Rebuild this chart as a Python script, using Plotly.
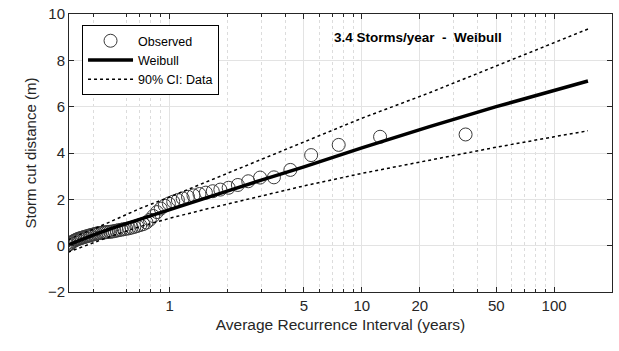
import plotly.graph_objects as go

# Observed (Gringorten plotting positions)
obs_ari = [34.64, 12.44, 7.58, 5.45, 4.25, 3.49, 2.957, 2.566, 2.266, 2.029,
           1.837, 1.678, 1.545, 1.431, 1.332, 1.247, 1.171, 1.105, 1.045, 0.992,
           0.944, 0.900, 0.860, 0.823, 0.790, 0.759, 0.730, 0.704, 0.679, 0.656,
           0.635, 0.615, 0.596, 0.578, 0.562, 0.546, 0.531, 0.517, 0.503, 0.491,
           0.478, 0.467, 0.456, 0.445, 0.435, 0.426, 0.417, 0.408, 0.400, 0.391,
           0.384, 0.376, 0.369, 0.362, 0.356, 0.349, 0.343, 0.337, 0.332, 0.326,
           0.321, 0.316, 0.310, 0.305, 0.301, 0.296]
obs_cut = [4.80, 4.70, 4.35, 3.91, 3.27, 2.95, 2.94, 2.78, 2.62, 2.50,
           2.42, 2.35, 2.29, 2.23, 2.17, 2.11, 2.04, 1.97, 1.90, 1.82,
           1.73, 1.60, 1.45, 1.28, 1.12, 1.00, 0.93, 0.89, 0.85, 0.81,
           0.78, 0.75, 0.73, 0.71, 0.69, 0.67, 0.65, 0.63, 0.61, 0.60,
           0.59, 0.58, 0.57, 0.56, 0.55, 0.54, 0.52, 0.50, 0.48, 0.46,
           0.44, 0.42, 0.40, 0.38, 0.36, 0.34, 0.32, 0.30, 0.28, 0.25,
           0.22, 0.19, 0.15, 0.10, 0.06, 0.02]

# Weibull fit line and 90% CI
fit_ari = [0.297, 0.32, 0.35, 0.4, 0.5, 0.7, 1.0, 1.5, 2.07, 3.0, 5.0, 10, 22.5, 50, 100, 150]
fit_cut = [0.03, 0.14, 0.27, 0.45, 0.75, 1.15, 1.56, 2.03, 2.40, 2.83, 3.40, 4.22, 5.14, 6.0, 6.68, 7.11]
ci_up = [0.25, 0.38, 0.52, 0.70, 1.05, 1.60, 2.10, 2.70, 3.20, 3.75, 4.50, 5.50, 6.60, 7.75, 8.75, 9.35]
ci_lo = [-0.28, -0.18, -0.06, 0.12, 0.42, 0.82, 1.18, 1.55, 1.83, 2.12, 2.58, 3.12, 3.70, 4.25, 4.70, 4.96]

x_ticks = [1, 5, 10, 20, 50, 100]
x_minor = [0.3, 0.4, 0.6, 0.7, 0.8, 0.9, 2, 3, 4, 6, 7, 8, 9, 30, 40, 60, 70, 80, 90, 200]
y_ticks = [-2, 0, 2, 4, 6, 8, 10]

FONT = "Liberation Sans, Arial, sans-serif"
fig = go.Figure()
fig.add_trace(go.Scatter(x=obs_ari, y=obs_cut, mode="markers", name="Observed",
                         marker=dict(symbol="circle-open", size=13, color="#3a3a3a",
                                     line=dict(width=1, color="#3a3a3a"))))
fig.add_trace(go.Scatter(x=fit_ari, y=fit_cut, mode="lines", name="Weibull",
                         line=dict(color="black", width=3.5)))
fig.add_trace(go.Scatter(x=fit_ari, y=ci_up, mode="lines", name="90% CI: Data",
                         line=dict(color="black", width=1.5, dash="dot")))
fig.add_trace(go.Scatter(x=fit_ari, y=ci_lo, mode="lines", name="90% CI: Data",
                         showlegend=False,
                         line=dict(color="black", width=1.5, dash="dot")))

fig.add_annotation(text="3.4 Storms/year\u00a0\u00a0-\u00a0\u00a0Weibull", xref="paper", yref="paper",
                   x=0.643, y=0.915, xanchor="center", yanchor="middle", showarrow=False,
                   font=dict(size=13.5, color="black", family=FONT, weight="bold"))

axis_common = dict(showline=True, linecolor="#262626", linewidth=1, mirror="ticks",
                   ticks="inside", tickcolor="#262626", ticklen=5, automargin=False,
                   tickfont=dict(size=15, color="#262626", family=FONT),
                   gridcolor="#e3e3e3", gridwidth=1, zeroline=False)

fig.update_xaxes(type="log", range=[-0.5229, 2.301], tickmode="array", tickvals=x_ticks,
                 ticktext=[str(v) for v in x_ticks],
                 title=dict(text="Average Recurrence Interval (years)", standoff=6,
                            font=dict(size=15.5, color="#262626", family=FONT)),
                 minor=dict(tickmode="array", tickvals=x_minor, ticks="inside", ticklen=3,
                            tickcolor="#262626", showgrid=True, gridcolor="#dcdcdc",
                            griddash="dot", gridwidth=1),
                 **axis_common)
fig.update_yaxes(range=[-2, 10], tickmode="array", tickvals=y_ticks,
                 title=dict(text="Storm cut distance (m)", standoff=7,
                            font=dict(size=15, color="#262626", family=FONT)),
                 **axis_common)

fig.update_layout(width=619, height=351, margin=dict(l=69, r=7, t=14, b=59),
                  paper_bgcolor="white", plot_bgcolor="white",
                  font=dict(family=FONT, color="#262626"),
                  legend=dict(x=0.024, y=0.96, xanchor="left", yanchor="top",
                              bgcolor="white", bordercolor="black", borderwidth=1,
                              font=dict(size=12.5, color="black", family=FONT),
                              tracegroupgap=0, itemwidth=45))
fig.write_html("out.html", config={"displayModeBar": False},
               post_script="document.body.style.margin='0';")
